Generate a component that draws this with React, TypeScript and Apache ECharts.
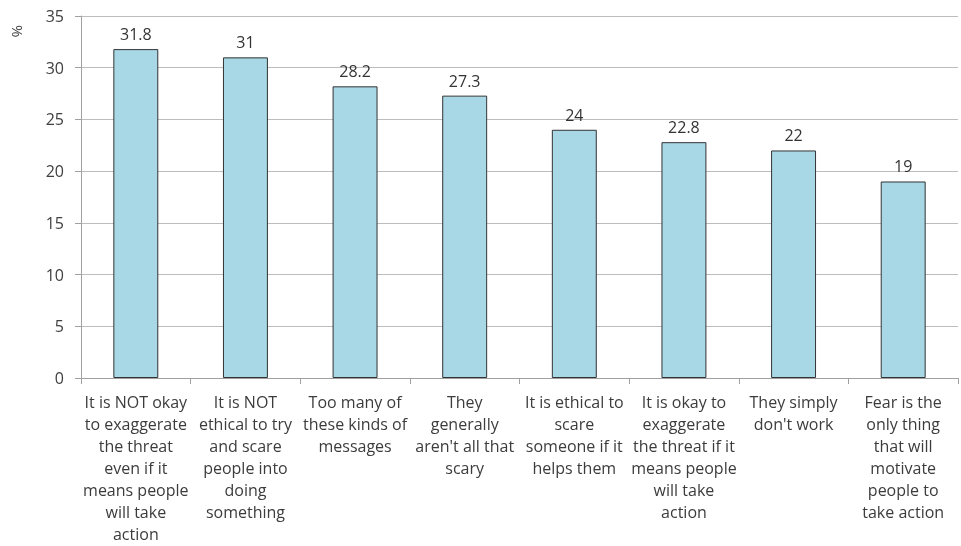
import React, { useEffect, useRef } from "react";
import * as echarts from "echarts";

const categories: string[] = [
  "It is NOT okay\nto exaggerate\nthe threat\neven if it\nmeans people\nwill take\naction",
  "It is NOT\nethical to try\nand scare\npeople into\ndoing\nsomething",
  "Too many of\nthese kinds of\nmessages",
  "They\ngenerally\naren't all that\nscary",
  "It is ethical to\nscare\nsomeone if it\nhelps them",
  "It is okay to\nexaggerate\nthe threat if it\nmeans people\nwill take\naction",
  "They simply\ndon't work",
  "Fear is the\nonly thing\nthat will\nmotivate\npeople to\ntake action",
];
const values: number[] = [31.8, 31, 28.2, 27.3, 24, 22.8, 22, 19];
const yTicks = { min: 0, max: 35, interval: 5 };
const yUnit = "%";

export default function App() {
  const ref = useRef<HTMLDivElement>(null);
  useEffect(() => {
    if (!ref.current) return;
    const chart = echarts.init(ref.current, null, { renderer: "svg" });
    const font = "'Open Sans', 'Liberation Sans', Arial, sans-serif";
    chart.setOption({
      animation: false,
      textStyle: { fontFamily: font },
      grid: {
        left: 81,
        right: 3,
        top: 16,
        bottom: 168,
        containLabel: false,
        outerBoundsMode: "none",
      },
      graphic: [
        {
          type: "text",
          x: 25,
          y: 25,
          rotation: -Math.PI / 2,
          style: { text: yUnit, fontSize: 15, fill: "#404040", fontFamily: font },
        },
      ],
      xAxis: {
        type: "category",
        data: categories,
        axisLine: { show: true, lineStyle: { color: "#A0A0A0", width: 1 } },
        axisTick: { show: true, alignWithLabel: false, length: 6, lineStyle: { color: "#A0A0A0" } },
        axisLabel: {
          interval: 0,
          color: "#3C3C3C",
          fontSize: 16,
          lineHeight: 22,
          margin: 13,
          align: "center",
        },
      },
      yAxis: {
        type: "value",
        min: yTicks.min,
        max: yTicks.max,
        interval: yTicks.interval,
        axisLine: { show: true, lineStyle: { color: "#A0A0A0", width: 1 } },
        axisTick: { show: true, length: 6, lineStyle: { color: "#A0A0A0" } },
        axisLabel: { color: "#404040", fontSize: 16, margin: 17 },
        splitLine: { show: true, lineStyle: { color: "#BDBDBD", width: 1 } },
      },
      series: [
        {
          type: "bar",
          data: values,
          barCategoryGap: "59%",
          itemStyle: { color: "#A8D7E6", borderColor: "#333333", borderWidth: 1 },
          label: {
            show: true,
            position: "top",
            distance: 7,
            color: "#333333",
            fontSize: 16,
          },
        },
      ],
    });
    return () => chart.dispose();
  }, []);
  return (
    <div
      ref={ref}
      style={{ position: "fixed", left: 0, top: 0, width: 961, height: 546 }}
    />
  );
}
